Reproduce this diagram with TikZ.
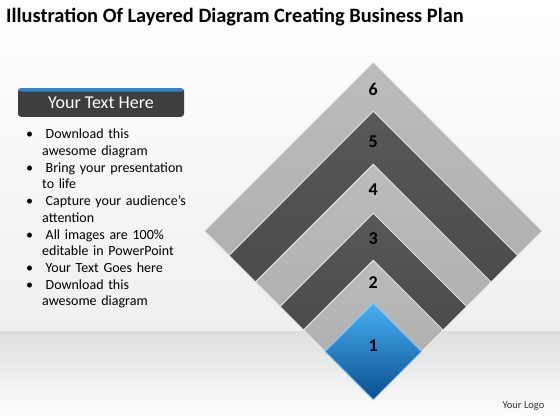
\documentclass[tikz,border=0pt]{standalone}
\usepackage{fontspec}
\setmainfont{Carlito}
\usetikzlibrary{shapes.geometric,positioning}
\definecolor{lightTop}{HTML}{BCBCBC}
\definecolor{lightBot}{HTML}{AAAAAA}
\definecolor{darkTop}{HTML}{585858}
\definecolor{darkBot}{HTML}{434343}
\definecolor{blueTop}{HTML}{48B0F4}
\definecolor{blueBot}{HTML}{0A4E8E}
\definecolor{headgray}{HTML}{3E3E3E}
\definecolor{headblue}{HTML}{2F86D0}
\definecolor{bgmid}{HTML}{EFEFEF}
\definecolor{bgband}{HTML}{DEDEDE}

\begin{document}
\begin{tikzpicture}[x=1pt,y=-1pt,
  layer/.style={diamond,aspect=1,inner sep=0pt,draw=white!85!gray,line width=0.8pt},
  lightband/.style={layer,top color=lightTop,bottom color=lightBot},
  darkband/.style={layer,top color=darkTop,bottom color=darkBot},
  blueband/.style={layer,top color=blueTop,bottom color=blueBot,draw=blueTop!60!white},
  num/.style={font=\fontsize{18}{18}\selectfont\bfseries,inner sep=0pt}]
  \useasboundingbox (0,0) rectangle (560,420);
  % background
  \fill[top color=white,bottom color=bgmid] (0,0) rectangle (560,331);
  \fill[top color=bgband,bottom color=white] (0,331) rectangle (560,420);

  \node[anchor=west,inner sep=0pt,font=\fontsize{20.4}{24}\selectfont\bfseries] (title) at (6,17)
    {Illustration Of Layered Diagram Creating Business Plan};

  % left panel
  \node[fill=headgray,rounded corners=3pt,minimum width=166pt,minimum height=28.5pt,
    text=white,font=\fontsize{18}{20}\selectfont,
    path picture={\fill[headblue] (path picture bounding box.north west)
      rectangle ([yshift=-3.5pt]path picture bounding box.north east);}] (head) at (101,102.5) {Your Text Here};
  \node[anchor=north west,inner sep=0pt,text width=170pt,font=\fontsize{14}{16.7}\selectfont] (items) at (26,122)
    {\begin{list}{\textbullet}{\setlength\leftmargin{16pt}\setlength\labelwidth{3.5pt}\setlength\labelsep{12.5pt}%
      \setlength\itemsep{0pt}\setlength\parsep{0pt}\setlength\topsep{0pt}}
      \item Download this\newline awesome diagram
      \item Bring your presentation\newline to life
      \item Capture your audience’s\newline attention
      \item All images are 100\%\newline editable in PowerPoint
      \item Your Text Goes here
      \item Download this\newline awesome diagram
    \end{list}};

  % layers
  \node[lightband,minimum size=338pt] (l6) at (373.3,231) {};
  \node[darkband,minimum size=289pt] (l5) at (373.3,255.5) {};
  \node[lightband,minimum size=236pt] (l4) at (373.3,282) {};
  \node[darkband,minimum size=187pt] (l3) at (373.3,306.5) {};
  \node[lightband,minimum size=140pt] (l2) at (373.3,330) {};
  \node[blueband,minimum size=97pt] (l1) at (373.3,351.5) {};

  \node[num,below=21.5pt of l6.north] (n6) {6};
  \node[num,below=25.5pt of l5.north] (n5) {5};
  \node[num,below=20.5pt of l4.north] (n4) {4};
  \node[num,below=19.5pt of l3.north] (n3) {3};
  \node[num,below=16.5pt of l2.north] (n2) {2};
  \node[num,below=37.5pt of l1.north] (n1) {1};

  \node[font=\fontsize{10.5}{12}\selectfont,text=black!80] (logo) at (523.5,406) {Your Logo};
\end{tikzpicture}
\end{document}
